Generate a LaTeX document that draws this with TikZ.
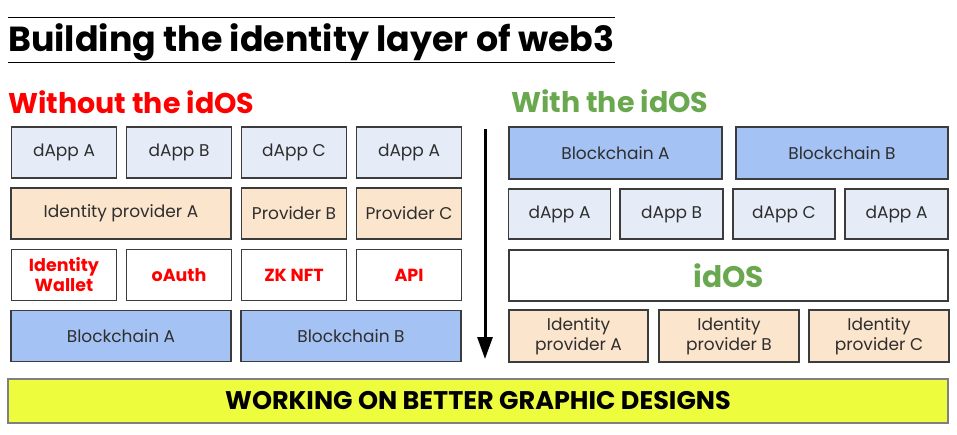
\documentclass[tikz,border=0pt]{standalone}
\usepackage{fontspec}
\setmainfont{Poppins}
\usetikzlibrary{arrows.meta}
\definecolor{dappfill}{HTML}{E6ECF7}
\definecolor{provfill}{HTML}{FCE5CD}
\definecolor{chainfill}{HTML}{A4C2F4}
\definecolor{idosgreen}{HTML}{6AA84F}
\definecolor{barfill}{HTML}{EEFC3E}
\definecolor{edge}{HTML}{3C3C3C}
\definecolor{label}{HTML}{2E2E2E}

\begin{document}
\begin{tikzpicture}[x=1pt, y=-1pt,
  layer/.style={draw=edge, line width=1.2pt, inner sep=0pt, align=center,
    text=label, font=\fontsize{17}{20}\selectfont},
  dapp/.style={layer, fill=dappfill, minimum width=105pt, minimum height=51pt},
  prov/.style={layer, fill=provfill, minimum height=51pt},
  chain/.style={layer, fill=chainfill, minimum height=51pt},
  tech/.style={layer, fill=white, minimum width=105pt, minimum height=51pt,
    text=red, font=\fontsize{17.5}{20}\selectfont\bfseries}]
  \useasboundingbox (0,0) rectangle (957,435);

  % title
  \coordinate (t1) at (8,18);   \coordinate (t2) at (615,18);
  \coordinate (t3) at (8,63);   \coordinate (t4) at (615,63);
  \draw[line width=1pt] (t1) -- (t2);
  \draw[line width=1pt] (t3) -- (t4);
  \node[anchor=base west, inner sep=0pt, font=\fontsize{34.8}{38}\selectfont\bfseries]
    (title) at (8,52) {Building the identity layer of web3};

  % without the idOS
  \node[anchor=base west, inner sep=0pt, text=red, font=\fontsize{28.5}{32}\selectfont\bfseries]
    (without) at (8,114) {Without the idOS};
  \node[dapp] (la1) at (64,152.5)  {dApp A};
  \node[dapp] (la2) at (179,152.5) {dApp B};
  \node[dapp] (la3) at (294,152.5) {dApp C};
  \node[dapp] (la4) at (409,152.5) {dApp A};
  \node[prov, minimum width=220pt] (lp1) at (121,213.5) {Identity provider A};
  \node[prov, minimum width=105pt] (lp2) at (294,213.5) {Provider B};
  \node[prov, minimum width=105pt] (lp3) at (409,213.5) {Provider C};
  \node[tech] (lt1) at (64,275)  {Identity\\Wallet};
  \node[tech] (lt2) at (179,275) {oAuth};
  \node[tech] (lt3) at (294,275) {ZK NFT};
  \node[tech] (lt4) at (409,275) {API};
  \node[chain, minimum width=220pt] (lc1) at (121,336) {Blockchain A};
  \node[chain, minimum width=220pt] (lc2) at (351,336) {Blockchain B};

  % arrow
  \coordinate (atop) at (485,129);
  \coordinate (abot) at (485,359);
  \draw[line width=3pt, -{Triangle[width=15pt,length=22pt]}] (atop) -- (abot);

  % with the idOS
  \node[anchor=base west, inner sep=0pt, text=idosgreen, font=\fontsize{28.5}{32}\selectfont\bfseries]
    (with) at (511,113) {With the idOS};
  \node[chain, minimum width=213pt, minimum height=52pt] (rc1) at (615.5,153) {Blockchain A};
  \node[chain, minimum width=212pt, minimum height=52pt] (rc2) at (842,153) {Blockchain B};
  \node[dapp, minimum width=102pt, minimum height=50pt] (ra1) at (559.5,214) {dApp A};
  \node[dapp, minimum width=103pt, minimum height=50pt] (ra2) at (671.5,214) {dApp B};
  \node[dapp, minimum width=102pt, minimum height=50pt] (ra3) at (784,214)   {dApp C};
  \node[dapp, minimum width=103pt, minimum height=50pt] (ra4) at (896.5,214) {dApp A};
  \node[layer, minimum width=439pt, minimum height=51pt, text=idosgreen,
    font=\fontsize{29.7}{34}\selectfont\bfseries] (idos) at (728.5,275.5) {idOS};
  \node[prov, minimum width=139pt, minimum height=52pt] (rp1) at (578.5,336) {Identity\\provider A};
  \node[prov, minimum width=140pt, minimum height=52pt] (rp2) at (729,336)   {Identity\\provider B};
  \node[prov, minimum width=140pt, minimum height=52pt] (rp3) at (879,336)   {Identity\\provider C};

  % footer
  \node[draw=gray, line width=1.2pt, fill=barfill, minimum width=940pt, minimum height=44pt,
    inner sep=0pt, font=\fontsize{25.5}{28}\selectfont\bfseries] (bar) at (478,401)
    {WORKING ON BETTER GRAPHIC DESIGNS};
\end{tikzpicture}
\end{document}
